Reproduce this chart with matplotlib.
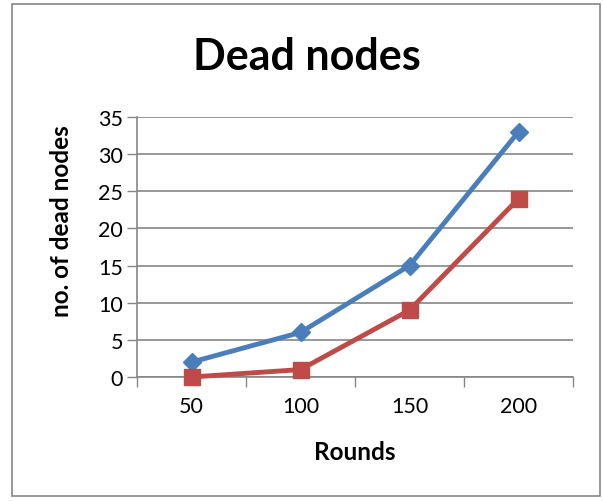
import matplotlib.pyplot as plt
from matplotlib.patches import Rectangle

# datos
rounds = ['50', '100', '150', '200']
serie_azul = [2, 6, 15, 33]
serie_roja = [0, 1, 9, 24]

plt.rcParams['font.family'] = ['Lato', 'DejaVu Sans']

fig = plt.figure(figsize=(6.03, 5.02), dpi=100)
ax = fig.add_axes([137 / 603, 1 - 378 / 502, 436 / 603, 260 / 502])

x = list(range(len(rounds)))
ax.plot(x, serie_azul, color='#4A7EBB', linewidth=3.5, marker='D',
        markersize=9, zorder=3, clip_on=False)
ax.plot(x, serie_roja, color='#BE4B48', linewidth=3.5, marker='s',
        markersize=11, zorder=3, clip_on=False)

ax.set_xlim(-0.5, len(rounds) - 0.5)
ax.set_ylim(0, 35)
ax.set_yticks(range(0, 36, 5))
ax.set_xticks(x)
ax.set_xticklabels(rounds)
ax.set_xticks([i - 0.5 for i in range(len(rounds) + 1)], minor=True)
ax.tick_params(axis='x', which='major', length=0, labelsize=15.5, pad=14)
ax.tick_params(axis='x', which='minor', length=7, width=1, color='#868686')
ax.tick_params(axis='y', length=7, width=1, color='#868686', labelsize=15.5, pad=3)

ax.grid(axis='y', color='#868686', linewidth=1.2)
ax.set_axisbelow(True)
for lado in ['top', 'right']:
    ax.spines[lado].set_visible(False)
for lado in ['left', 'bottom']:
    ax.spines[lado].set_color('#868686')
    ax.spines[lado].set_linewidth(1.2)

ax.set_xlabel('Rounds', fontsize=17.5, fontweight='bold', labelpad=17)
ax.set_ylabel('no. of dead nodes', fontsize=17.5, fontweight='bold')
ax.yaxis.set_label_coords(-0.147, 0.604)
fig.text(307 / 603, 1 - 57 / 502, 'Dead nodes', fontsize=31, fontweight='bold',
         ha='center', va='center')

# marco exterior
fig.patches.append(Rectangle((12 / 603, 5 / 502), 588 / 603, 492 / 502,
                             transform=fig.transFigure, fill=False,
                             edgecolor='#868686', linewidth=1.2))

fig.savefig('out.png', dpi=100)
